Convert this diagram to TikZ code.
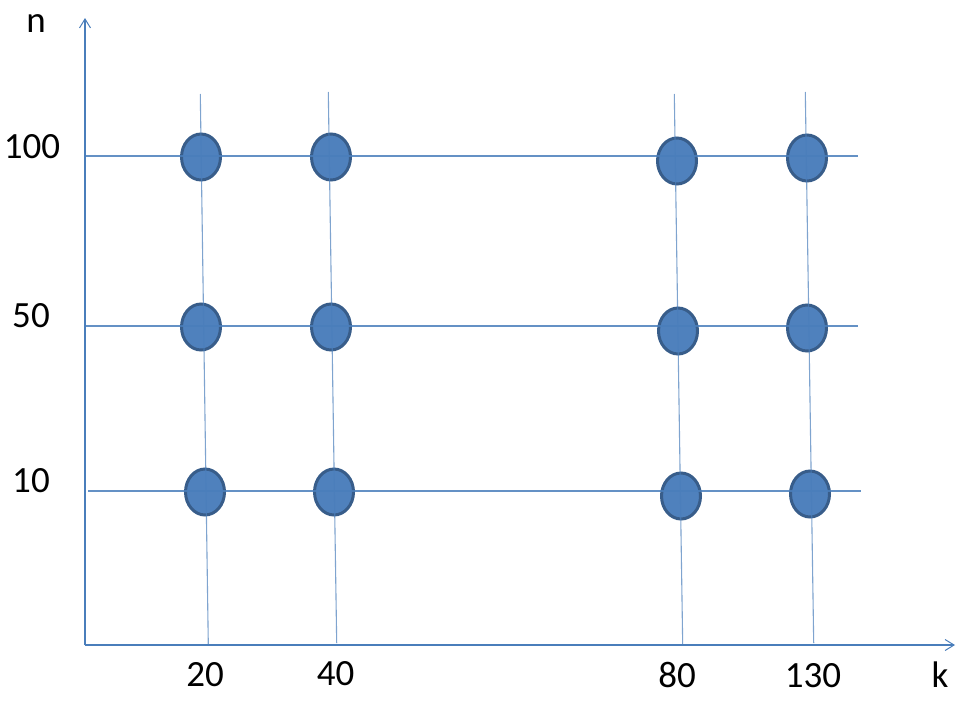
\documentclass[tikz,border=0pt]{standalone}
\usepackage{fontspec}
\setmainfont{Carlito}
\usetikzlibrary{arrows.meta,shapes.geometric}
\definecolor{dotfill}{HTML}{4F81BD}
\definecolor{dotdraw}{HTML}{385D8A}
\definecolor{gridline}{HTML}{4A7EBB}
\tikzset{
  dot/.style={ellipse, draw=dotdraw, fill=dotfill, line width=3pt, minimum width=39pt, minimum height=46pt, inner sep=0pt},
  gline/.style={draw=gridline, line width=1.1pt},
  axisline/.style={draw=gridline, line width=1.1pt, -{Straight Barb[length=9pt,width=11pt,line width=1pt]}},
  lbl/.style={anchor=base, font=\fontsize{37}{42}\selectfont, inner sep=0pt}
}
\begin{document}
\begin{tikzpicture}[x=1pt,y=-1pt]
\useasboundingbox[fill=white] (0,0) rectangle (960,720);
% axes
\coordinate (O) at (85,645);
\coordinate (ytop) at (85,18);
\coordinate (xend) at (955,645);
% grid line end points
\coordinate (h1a) at (85,156); \coordinate (h1b) at (858,156);
\coordinate (h2a) at (85,326); \coordinate (h2b) at (858,326);
\coordinate (h3a) at (88,491); \coordinate (h3b) at (861,491);
\coordinate (v1a) at (200.3,94); \coordinate (v1b) at (208.3,645);
\coordinate (v2a) at (328.3,92); \coordinate (v2b) at (336.7,643);
\coordinate (v3a) at (674.3,94); \coordinate (v3b) at (682.7,645);
\coordinate (v4a) at (805.3,92); \coordinate (v4b) at (813.7,643);
% dots
\node[dot] (d11) at (201,157) {};
\node[dot] (d12) at (331,157) {};
\node[dot] (d13) at (677,161) {};
\node[dot] (d14) at (807,158) {};
\node[dot] (d21) at (201,327) {};
\node[dot] (d22) at (331,327) {};
\node[dot] (d23) at (678,331) {};
\node[dot] (d24) at (807,328) {};
\node[dot] (d31) at (205,492) {};
\node[dot] (d32) at (334,492) {};
\node[dot] (d33) at (681,496) {};
\node[dot] (d34) at (810,494) {};
% grid lines on top
\draw[gline, draw opacity=0.85] (h1a) -- (h1b);
\draw[gline, draw opacity=0.85] (h2a) -- (h2b);
\draw[gline, draw opacity=0.85] (h3a) -- (h3b);
\draw[gline, draw opacity=0.7] (v1a) -- (v1b);
\draw[gline, draw opacity=0.7] (v2a) -- (v2b);
\draw[gline, draw opacity=0.7] (v3a) -- (v3b);
\draw[gline, draw opacity=0.7] (v4a) -- (v4b);
\draw[axisline] (O) -- (ytop);
\draw[axisline] (O) -- (xend);
% labels
\node[lbl] (ln) at (36,32) {n};
\node[lbl] (l100) at (32,158) {100};
\node[lbl] (l50) at (31,327) {50};
\node[lbl] (l10) at (31,492) {10};
\node[lbl] (l20) at (205,686) {20};
\node[lbl] (l40) at (335.5,685) {40};
\node[lbl] (l80) at (677,687) {80};
\node[lbl] (l130) at (813,687) {130};
\node[lbl] (lk) at (940,687) {k};
\end{tikzpicture}
\end{document}
